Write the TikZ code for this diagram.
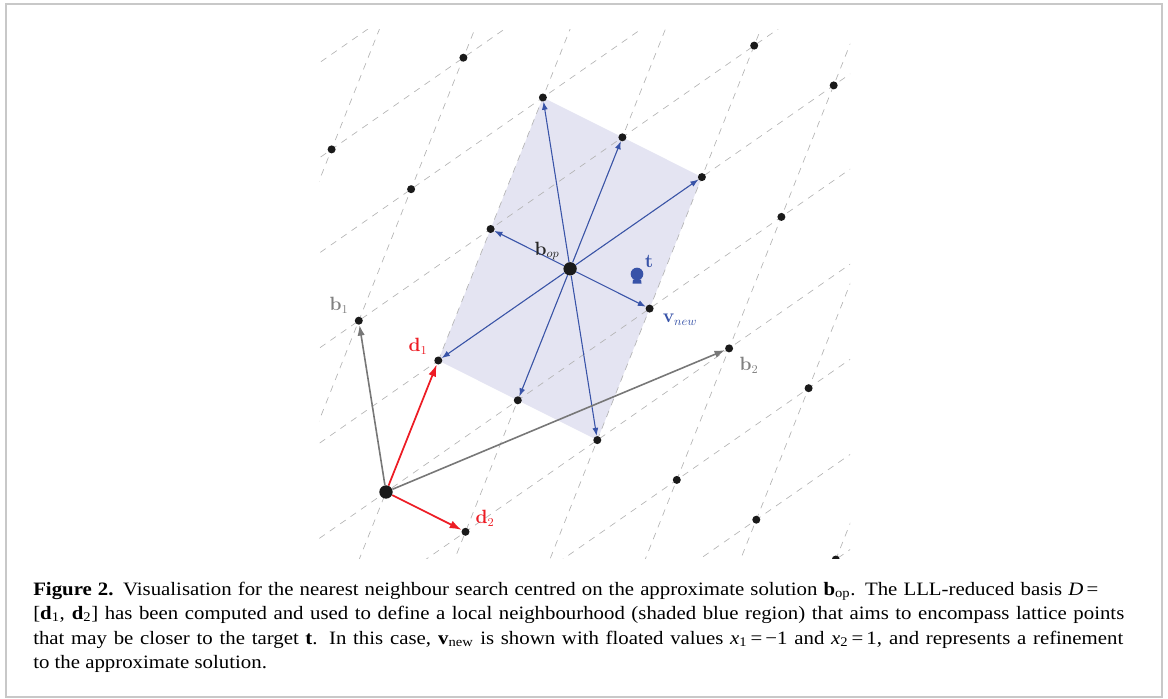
\documentclass[tikz,border=0pt]{standalone}
\usepackage[no-math]{fontspec}
\newfontfamily\capfont[FakeStretch=1.1]{Liberation Serif}
\usetikzlibrary{arrows.meta}
\definecolor{dotc}{HTML}{1A1A1A}
\definecolor{arrblue}{HTML}{3853A8}
\definecolor{shadec}{HTML}{E4E4F2}
\definecolor{arrred}{HTML}{ED1C24}
\definecolor{arrgray}{HTML}{777777}
\definecolor{labgray}{HTML}{808080}
\definecolor{gridc}{HTML}{B4B4B4}
\definecolor{framec}{HTML}{C8C8C8}
\begin{document}
\begin{tikzpicture}[x=0.75pt,y=-0.75pt,
  dot/.style={circle,fill=dotc,inner sep=0pt,minimum size=6pt},
  bigdot/.style={circle,fill=dotc,inner sep=0pt,minimum size=10pt},
  gridline/.style={draw=gridc,line width=0.5pt,dash pattern=on 5pt off 4.5pt},
  bluearr/.style={draw=arrblue,line width=0.8pt,-{Latex[length=6pt,width=4.5pt]}},
  redarr/.style={draw=arrred,line width=1.3pt,-{Latex[length=9pt,width=6pt]}},
  grayarr/.style={draw=arrgray,line width=1.2pt,-{Latex[length=8pt,width=5.5pt]}},
  lab/.style={font=\fontsize{13.5}{16}\selectfont,inner sep=0pt},
  captext/.style={anchor=base west,inner sep=0pt,font=\capfont\fontsize{14.2}{16}\selectfont},
  lattice/.style={shift={(386,492)},x={(39.225pt,98.625pt)},y={(59.625pt,-29.85pt)}}
]
\useasboundingbox (0,0) rectangle (1168,699);
\draw[framec,line width=1.5pt] (6,4) rectangle (1162,697);
% shaded neighbourhood
\begin{scope}[lattice]
  \fill[shadec] (1,0) -- (3,0) -- (3,2) -- (1,2) -- cycle;
\end{scope}
% lattice lines and points
\begin{scope}
  \clip (319,30) rectangle (850,558);
  \begin{scope}[lattice]
    \foreach \b in {-2,...,5} \draw[gridline] (-5,\b) -- (8,\b);
    \foreach \k in {-4,...,5} \draw[gridline] (\k-8,-8) -- (\k+8,8);
    \foreach \a/\b in {2/-2,1/-1,2/-1,3/-1,1/0,2/0,3/0,0/1,1/1,3/1,1/2,2/2,3/2,4/2,1/3,2/3,3/3,4/3,1/4,2/4,1/5}
      \node[dot] (p\a\b) at (\a,\b) {};
    \node[bigdot] (O) at (0,0) {};
    \node[bigdot] (bop) at (2,1) {};
  \end{scope}
\end{scope}
% neighbourhood search arrows
\foreach \n in {p10,p11,p12,p20,p22,p30,p31,p32}
  \draw[bluearr] (bop) -- (\n);
% basis vectors
\draw[grayarr] (O) -- (p1-1);
\draw[grayarr] (O) -- (p23);
\draw[redarr] (O) -- (p10);
\draw[redarr] (O) -- (p01);
% target
\fill[arrblue] (633,279.5) -- (641,279.5) -- (641.5,283.5) -- (632.5,283.5) -- cycle;
\node[circle,fill=arrblue,inner sep=0pt,minimum size=9.5pt] (t) at (637,274) {};
% labels
\node[lab,text=labgray] (lb1) at (339,305) {$\mathbf{b}_1$};
\node[lab,text=arrred] (ld1) at (418,346) {$\mathbf{d}_1$};
\node[lab,text=arrred] (ld2) at (485,518) {$\mathbf{d}_2$};
\node[lab,text=labgray] (lb2) at (749,365) {$\mathbf{b}_2$};
\node[lab,text=arrblue] (lv) at (680,320) {$\mathbf{v}_{new}$};
\node[lab,text=arrblue] (lt) at (649,261) {$\mathbf{t}$};
\node[lab,text=black!85] (lbop) at (547,251) {$\mathbf{b}_{op}$};
% caption
\node[captext] (c1) at (33,595) {\hbox to 798.75pt{\textbf{Figure 2.} Visualisation for the nearest neighbour search centred on the approximate solution \textbf{b}\textsubscript{op}. The LLL-reduced basis \textit{D}\,=}};
\node[captext] (c2) at (33,619) {\hbox to 818.25pt{[\textbf{d}\textsubscript{1}, \textbf{d}\textsubscript{2}] has been computed and used to define a local neighbourhood (shaded blue region) that aims to encompass lattice points}};
\node[captext] (c3) at (33,644) {\hbox to 817.5pt{that may be closer to the target \textbf{t}. In this case, \textbf{v}\textsubscript{new} is shown with floated values \textit{x}\textsubscript{1}\,=\,−1 and \textit{x}\textsubscript{2}\,=\,1, and represents a refinement}};
\node[captext] (c4) at (33,668) {to the approximate solution.};
\end{tikzpicture}
\end{document}
